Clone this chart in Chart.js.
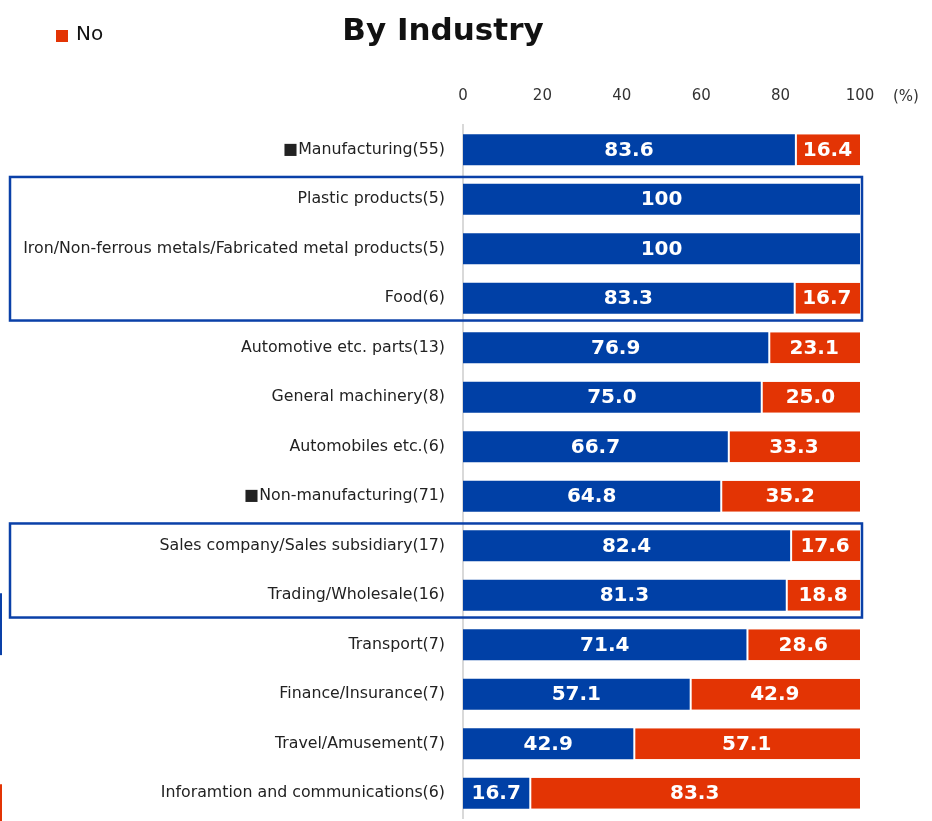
<!DOCTYPE html>
<html>
<head>
<meta charset="utf-8">
<script src="https://cdn.jsdelivr.net/npm/chart.js@4.4.1/dist/chart.umd.min.js"></script>
<style>
  html, body { margin: 0; padding: 0; background: #fff; }
  #wrap { width: 932px; height: 821px; position: relative; }
</style>
</head>
<body>
<div id="wrap"><canvas id="chart" width="932" height="821"></canvas></div>
<script>
const categories = [
  '■Manufacturing(55)',
  'Plastic products(5)',
  'Iron/Non-ferrous metals/Fabricated metal products(5)',
  'Food(6)',
  'Automotive etc. parts(13)',
  'General machinery(8)',
  'Automobiles etc.(6)',
  '■Non-manufacturing(71)',
  'Sales company/Sales subsidiary(17)',
  'Trading/Wholesale(16)',
  'Transport(7)',
  'Finance/Insurance(7)',
  'Travel/Amusement(7)',
  'Inforamtion and communications(6)'
];
const yesValues = [83.6, 100, 100, 83.3, 76.9, 75.0, 66.7, 64.8, 82.4, 81.3, 71.4, 57.1, 42.9, 16.7];
const noValues = [16.4, 0, 0, 16.7, 23.1, 25.0, 33.3, 35.2, 17.6, 18.8, 28.6, 42.9, 57.1, 83.3];
const xTicks = [0, 20, 40, 60, 80, 100];
// rows wrapped in blue frames: [first, last]
const framedRows = [[1, 3], [8, 9]];

const BLUE = '#0040a6';
const ORANGE = '#e33404';
const FONT = "'DejaVu Sans', Verdana, sans-serif";

const fmt = v => (v === 100 ? '100' : v.toFixed(1));

const extras = {
  id: 'extras',
  afterDatasetsDraw(chart) {
    const ctx = chart.ctx;
    ctx.save();
    ctx.fillStyle = '#fff';
    ctx.font = 'bold 20px ' + FONT;
    ctx.textAlign = 'center';
    ctx.textBaseline = 'middle';
    chart.data.datasets.forEach((ds, di) => {
      const meta = chart.getDatasetMeta(di);
      meta.data.forEach((bar, i) => {
        const v = ds.data[i];
        if (!v) return;
        ctx.fillText(fmt(v), (bar.x + bar.base) / 2, bar.y + 1);
      });
    });
    ctx.restore();
  },
  afterDraw(chart) {
    const ctx = chart.ctx;
    const xs = chart.scales.x;
    const ys = chart.scales.y;
    const pitch = ys.getPixelForValue(1) - ys.getPixelForValue(0);
    ctx.save();

    // title
    ctx.fillStyle = '#111';
    ctx.font = 'bold 31px ' + FONT;
    ctx.textAlign = 'center';
    ctx.textBaseline = 'middle';
    ctx.fillText('By Industry', 443, 32);

    // legend (only "No" visible)
    ctx.fillStyle = ORANGE;
    ctx.fillRect(56, 30, 12, 12);
    ctx.fillStyle = '#111';
    ctx.font = '20px ' + FONT;
    ctx.textAlign = 'left';
    ctx.fillText('No', 76, 35);

    // unit
    ctx.fillStyle = '#333';
    ctx.font = '15px ' + FONT;
    ctx.fillText('(%)', xs.right + 33, 97);

    // frames
    ctx.strokeStyle = '#0a40a8';
    ctx.lineWidth = 2.5;
    framedRows.forEach(([a, b]) => {
      const top = ys.getPixelForValue(a) - pitch * 0.45;
      const bot = ys.getPixelForValue(b) + pitch * 0.45;
      ctx.strokeRect(10, top, xs.getPixelForValue(100) + 2 - 10, bot - top);
    });

    // cut-off marks on the left edge
    ctx.fillStyle = '#0a40a8';
    ctx.fillRect(0, ys.getPixelForValue(9) - 2, 2, pitch * 1.25);
    ctx.fillStyle = ORANGE;
    ctx.fillRect(0, ys.getPixelForValue(13) - 9, 2, 40);
    ctx.restore();
  }
};

new Chart(document.getElementById('chart'), {
  type: 'bar',
  data: {
    labels: categories,
    datasets: [
      {
        label: 'Yes',
        data: yesValues,
        backgroundColor: BLUE,
        borderWidth: 0,
        barPercentage: 0.63,
        categoryPercentage: 1
      },
      {
        label: 'No',
        data: noValues,
        backgroundColor: ORANGE,
        borderColor: '#fff',
        borderWidth: { left: 2, right: 0, top: 0, bottom: 0 },
        borderSkipped: false,
        barPercentage: 0.63,
        categoryPercentage: 1
      }
    ]
  },
  options: {
    indexAxis: 'y',
    responsive: false,
    animation: false,
    layout: { padding: { left: 0, right: 72, top: 75, bottom: 3 } },
    plugins: {
      legend: { display: false },
      tooltip: { enabled: false }
    },
    scales: {
      x: {
        position: 'top',
        stacked: true,
        min: 0,
        max: 100,
        afterBuildTicks: s => { s.ticks = xTicks.map(v => ({ value: v })); },
        afterFit: s => { s.height = 50; },
        grid: { display: false, drawTicks: false },
        border: { display: false },
        ticks: { color: '#333', font: { family: FONT, size: 15 }, padding: 20 }
      },
      y: {
        stacked: true,
        afterFit: s => {
          s.width = 463;
          s.paddingTop = 0;
          s.paddingBottom = 0;
        },
        grid: { display: false, drawTicks: false },
        border: { display: true, color: '#d9d9d9', width: 2 },
        ticks: { color: '#222', font: { family: FONT, size: 15.8 }, padding: 18 }
      }
    }
  },
  plugins: [extras]
});
</script>
</body>
</html>
